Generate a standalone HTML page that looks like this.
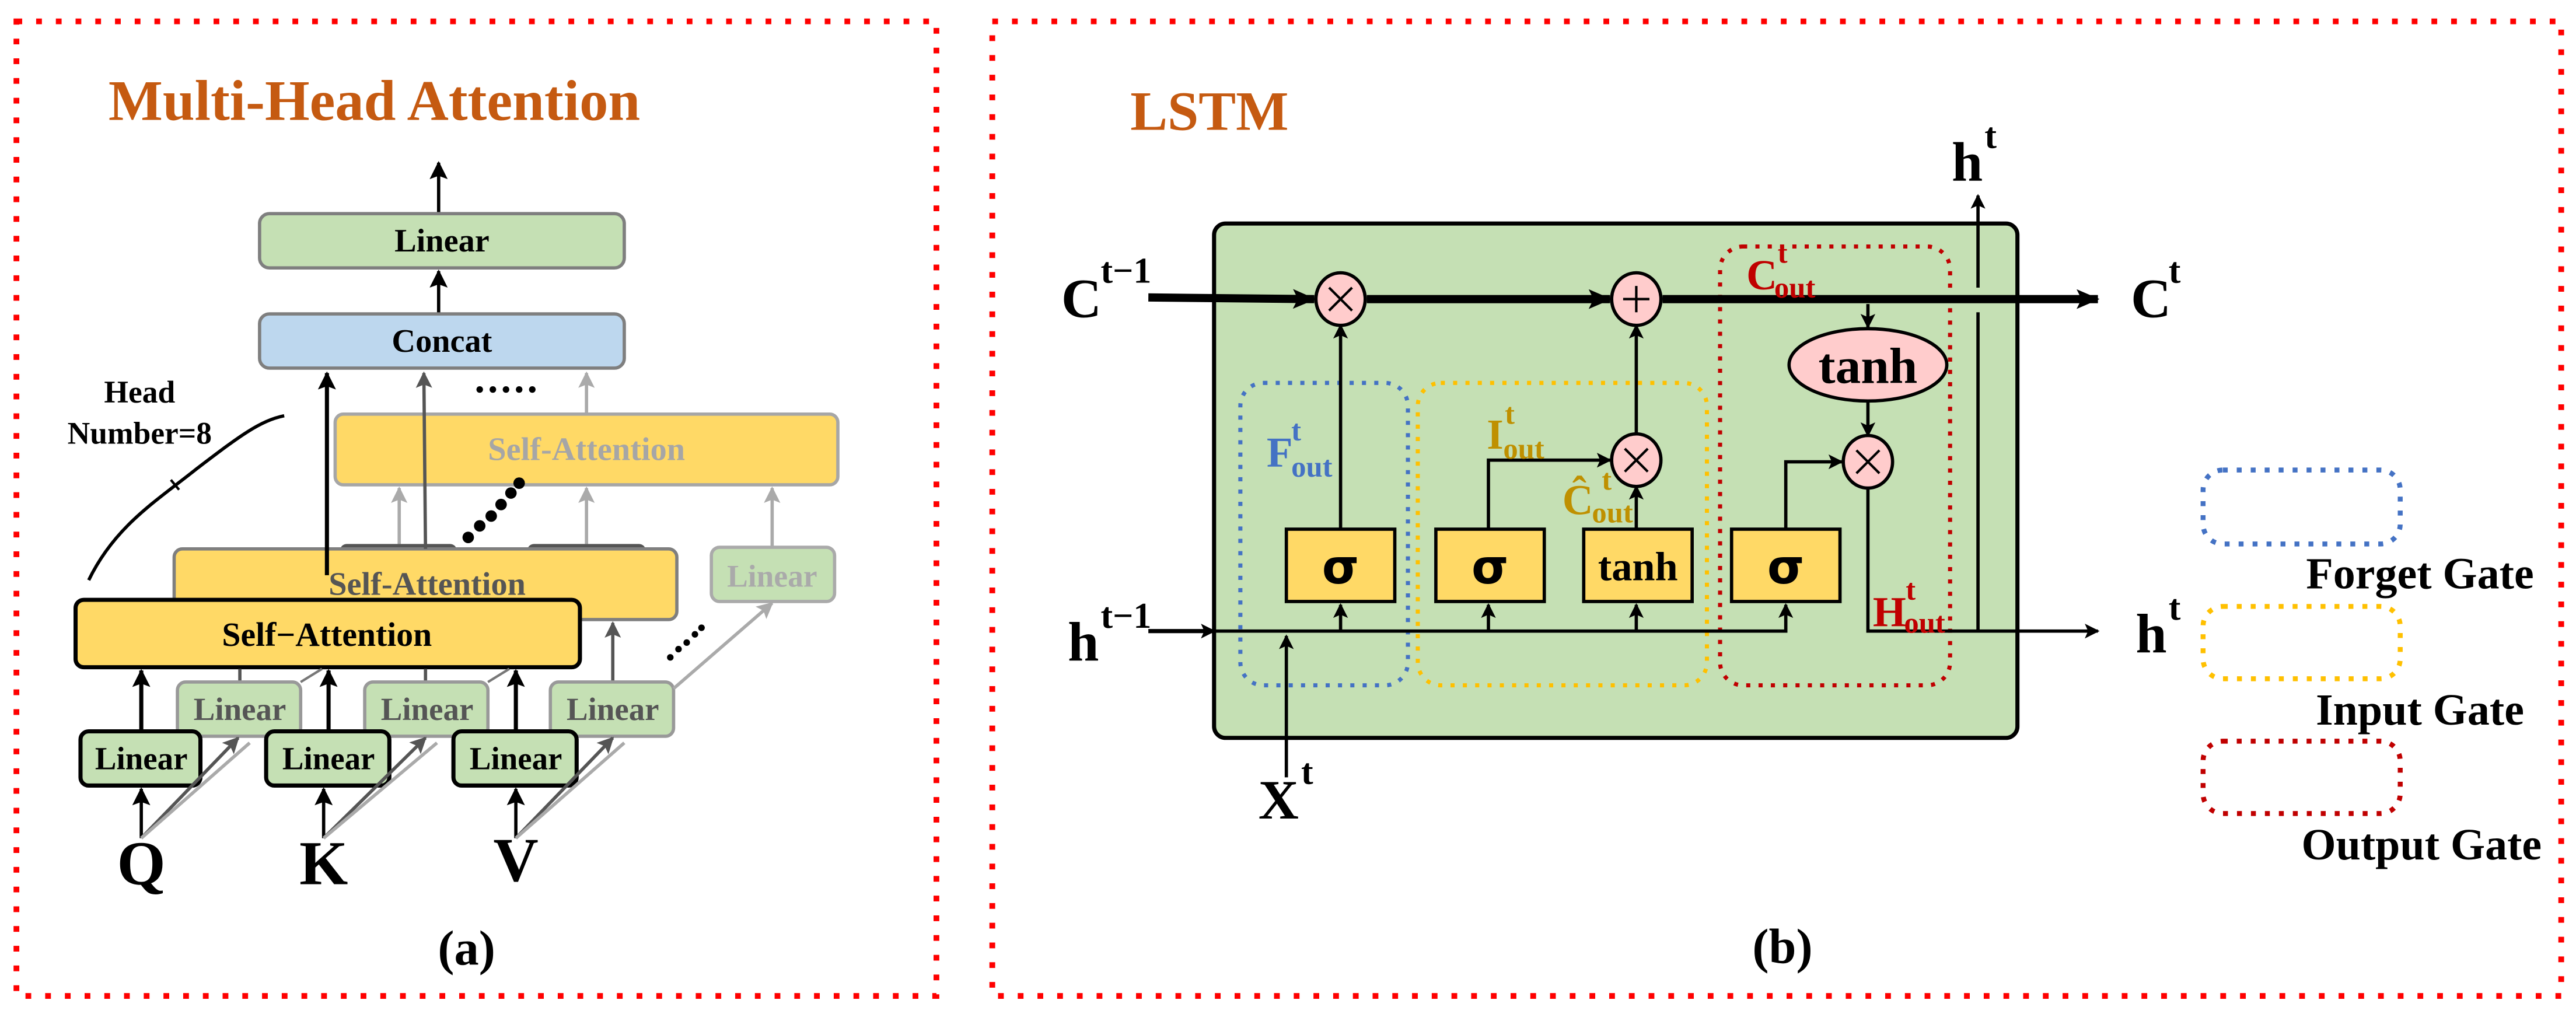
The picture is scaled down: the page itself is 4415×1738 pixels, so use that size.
<!DOCTYPE html>
<html><head><meta charset="utf-8"><style>
html,body{margin:0;padding:0;background:#fff;}
svg{display:block;}
text{font-family:"Liberation Serif",serif;font-weight:bold;}
</style></head><body>
<svg width="4415" height="1738" viewBox="0 0 1568 617" preserveAspectRatio="none" xmlns="http://www.w3.org/2000/svg">
<defs>
<marker id="ab" markerWidth="9" markerHeight="9" refX="8" refY="4.5" orient="auto" markerUnits="userSpaceOnUse"><path d="M0,0 L9,4.5 L0,9 L2,4.5 Z" fill="#000"/></marker>
<marker id="abig" markerWidth="14" markerHeight="12" refX="13" refY="6" orient="auto" markerUnits="userSpaceOnUse"><path d="M0,0 L14,6 L0,12 L3,6 Z" fill="#000"/></marker>
<marker id="ag" markerWidth="10" markerHeight="10" refX="9" refY="5" orient="auto" markerUnits="userSpaceOnUse"><path d="M0,0 L10,5 L0,10 L2,5 Z" fill="#555"/></marker>
<marker id="al" markerWidth="10" markerHeight="10" refX="9" refY="5" orient="auto" markerUnits="userSpaceOnUse"><path d="M0,0 L10,5 L0,10 L2,5 Z" fill="#aaa"/></marker>
<marker id="ak" markerWidth="11" markerHeight="11" refX="10" refY="5.5" orient="auto" markerUnits="userSpaceOnUse"><path d="M0,0 L11,5.5 L0,11 L2,5.5 Z" fill="#000"/></marker>
</defs>
<rect x="10" y="13" width="560" height="593" fill="none" stroke="#f00" stroke-width="3.5" stroke-dasharray="3.5,8.5"/>
<rect x="604" y="13" width="955" height="593" fill="none" stroke="#f00" stroke-width="3.5" stroke-dasharray="3.5,8.5"/>

<!-- ===== LEFT ===== -->
<text x="66" y="73" font-size="35" fill="#c55a11">Multi-Head Attention</text>
<line x1="267" y1="130" x2="267" y2="99" stroke="#000" stroke-width="2" marker-end="url(#ak)"/>
<rect x="158" y="130" width="222" height="33" rx="6" fill="#c5e0b4" stroke="#7f7f7f" stroke-width="2"/>
<text x="269" y="153" font-size="20" text-anchor="middle">Linear</text>
<line x1="267" y1="191" x2="267" y2="165" stroke="#000" stroke-width="2" marker-end="url(#ak)"/>
<rect x="158" y="191" width="222" height="33" rx="6" fill="#bdd7ee" stroke="#7f7f7f" stroke-width="2"/>
<text x="269" y="214" font-size="20" text-anchor="middle">Concat</text>
<text x="85" y="245" font-size="19" text-anchor="middle">Head</text>
<text x="85" y="270" font-size="19" text-anchor="middle">Number=8</text>
<path d="M54,353 C70,320 95,305 120,285 C145,266 158,256 173,253" fill="none" stroke="#000" stroke-width="2"/>
<line x1="104" y1="292" x2="109" y2="298" stroke="#000" stroke-width="1.5"/>
<!-- back self attention -->
<line x1="357" y1="251" x2="357" y2="227" stroke="#aaa" stroke-width="2" marker-end="url(#al)"/>
<g fill="#000"><circle cx="292" cy="237" r="2"/><circle cx="300" cy="237" r="2"/><circle cx="308" cy="237" r="2"/><circle cx="316" cy="237" r="2"/><circle cx="324" cy="237" r="2"/></g>
<rect x="204" y="252" width="306" height="43" rx="5" fill="#ffd966" stroke="#a6a6a6" stroke-width="2"/>
<text x="357" y="280" font-size="20" text-anchor="middle" fill="#a6a6a6">Self-Attention</text>
<line x1="243" y1="331" x2="243" y2="297" stroke="#aaa" stroke-width="2" marker-end="url(#al)"/>
<line x1="357" y1="331" x2="357" y2="297" stroke="#aaa" stroke-width="2" marker-end="url(#al)"/>
<line x1="470" y1="333" x2="470" y2="297" stroke="#aaa" stroke-width="2" marker-end="url(#al)"/>
<rect x="433" y="333" width="75" height="33" rx="5" fill="#c5e0b4" stroke="#aaa" stroke-width="2"/>
<text x="470" y="357" font-size="19" text-anchor="middle" fill="#aaa">Linear</text>
<!-- mid self-attention -->
<rect x="207" y="331" width="71" height="8" rx="4" fill="#555"/>
<rect x="321" y="331" width="72" height="8" rx="4" fill="#555"/>
<g fill="#000"><circle cx="285" cy="327" r="3.5"/><circle cx="292" cy="320" r="3.5"/><circle cx="299" cy="314" r="3.5"/><circle cx="305" cy="307" r="3.5"/><circle cx="311" cy="300" r="3.5"/><circle cx="316" cy="294" r="3.5"/></g>
<rect x="106" y="334" width="306" height="43" rx="5" fill="#ffd966" stroke="#7f7f7f" stroke-width="2"/>
<text x="260" y="362" font-size="20" text-anchor="middle" fill="#555">Self-Attention</text>
<line x1="259" y1="334" x2="258" y2="227" stroke="#555" stroke-width="2" marker-end="url(#ag)"/>
<line x1="199" y1="350" x2="199" y2="227" stroke="#000" stroke-width="2.5" marker-end="url(#ak)"/>
<!-- front -->
<rect x="46" y="365" width="307" height="41" rx="5" fill="#ffd966" stroke="#000" stroke-width="2.5"/>
<text x="199" y="393" font-size="20.5" text-anchor="middle">Self−Attention</text>
<!-- mid linears -->
<g stroke="#555" stroke-width="2">
<line x1="146" y1="415" x2="146" y2="407"/><line x1="259" y1="415" x2="259" y2="407"/>
<line x1="373" y1="415" x2="373" y2="379" marker-end="url(#ag)"/>
</g>
<g fill="#c5e0b4" stroke="#999" stroke-width="2">
<rect x="108" y="415" width="75" height="33" rx="5"/><rect x="222" y="415" width="75" height="33" rx="5"/><rect x="335" y="415" width="75" height="33" rx="5"/>
</g>
<g font-size="19.5" text-anchor="middle" fill="#555">
<text x="146" y="438">Linear</text><text x="260" y="438">Linear</text><text x="373" y="438">Linear</text>
</g>
<line x1="410" y1="419" x2="470" y2="367" stroke="#aaa" stroke-width="2" marker-end="url(#al)"/>
<g fill="#000"><circle cx="408" cy="400" r="2"/><circle cx="413" cy="395" r="2"/><circle cx="418" cy="391" r="2"/><circle cx="423" cy="386" r="2"/><circle cx="427" cy="382" r="2"/></g>
<g stroke="#777" stroke-width="1.5"><line x1="183" y1="415" x2="196" y2="407"/><line x1="297" y1="415" x2="310" y2="407"/></g>
<!-- front linears -->
<g stroke="#000" stroke-width="2.5">
<line x1="86" y1="445" x2="86" y2="408" marker-end="url(#ak)"/>
<line x1="200" y1="445" x2="200" y2="408" marker-end="url(#ak)"/>
<line x1="314" y1="445" x2="314" y2="408" marker-end="url(#ak)"/>
</g>
<g fill="#c5e0b4" stroke="#000" stroke-width="2.5">
<rect x="49" y="445" width="73" height="33" rx="5"/><rect x="162" y="445" width="75" height="33" rx="5"/><rect x="276" y="445" width="75" height="33" rx="5"/>
</g>
<g font-size="19.5" text-anchor="middle">
<text x="86" y="468">Linear</text><text x="200" y="468">Linear</text><text x="314" y="468">Linear</text>
</g>
<g stroke-width="2">
<line x1="86" y1="510" x2="86" y2="480" stroke="#000" marker-end="url(#ak)"/>
<line x1="86" y1="510" x2="145" y2="449" stroke="#555" marker-end="url(#ag)"/>
<line x1="86" y1="510" x2="152" y2="452" stroke="#aaa"/>
<line x1="197" y1="510" x2="197" y2="480" stroke="#000" marker-end="url(#ak)"/>
<line x1="197" y1="510" x2="259" y2="449" stroke="#555" marker-end="url(#ag)"/>
<line x1="197" y1="510" x2="266" y2="452" stroke="#aaa"/>
<line x1="314" y1="510" x2="314" y2="480" stroke="#000" marker-end="url(#ak)"/>
<line x1="314" y1="510" x2="373" y2="449" stroke="#555" marker-end="url(#ag)"/>
<line x1="314" y1="510" x2="380" y2="452" stroke="#aaa"/>
</g>
<g font-size="38" text-anchor="middle">
<text x="86" y="538">Q</text><text x="197" y="538">K</text><text x="314" y="536">V</text>
</g>
<text x="284" y="587" font-size="30" text-anchor="middle">(a)</text>

<!-- ===== RIGHT ===== -->
<text x="688" y="79" font-size="34" fill="#c55a11">LSTM</text>
<rect x="739" y="136" width="489" height="313" rx="7" fill="#c5e0b4" stroke="#000" stroke-width="2.5"/>
<rect x="755" y="233" width="102" height="184" rx="14" fill="none" stroke="#4472c4" stroke-width="2.5" stroke-dasharray="2.5,5"/>
<rect x="863" y="233" width="176" height="184" rx="14" fill="none" stroke="#ffc000" stroke-width="2.5" stroke-dasharray="2.5,5"/>
<rect x="1047" y="150" width="140" height="267" rx="14" fill="none" stroke="#c00000" stroke-width="2.5" stroke-dasharray="2.5,5"/>
<!-- cell line -->
<line x1="699" y1="181" x2="800" y2="182" stroke="#000" stroke-width="5" marker-end="url(#abig)"/>
<line x1="832" y1="182" x2="980" y2="182" stroke="#000" stroke-width="5" marker-end="url(#abig)"/>
<line x1="1012" y1="182" x2="1277" y2="182" stroke="#000" stroke-width="5" marker-end="url(#abig)"/>
<line x1="1204" y1="384" x2="1204" y2="190" stroke="#000" stroke-width="2"/>
<line x1="1204" y1="175" x2="1204" y2="119" stroke="#000" stroke-width="2" marker-end="url(#ab)"/>
<!-- h line -->
<line x1="699" y1="384" x2="739" y2="384" stroke="#000" stroke-width="2.5" marker-end="url(#ab)"/>
<polyline points="739,384 1087,384 1087,368" fill="none" stroke="#000" stroke-width="2" marker-end="url(#ab)"/>
<g stroke="#000" stroke-width="2">
<line x1="816" y1="384" x2="816" y2="368" marker-end="url(#ab)"/>
<line x1="906" y1="384" x2="906" y2="368" marker-end="url(#ab)"/>
<line x1="996" y1="384" x2="996" y2="368" marker-end="url(#ab)"/>
<line x1="783" y1="473" x2="783" y2="387" marker-end="url(#ab)"/>
<line x1="816" y1="322" x2="816" y2="198" marker-end="url(#ab)"/>
<polyline points="906,322 906,280 980,280" fill="none" marker-end="url(#ab)"/>
<line x1="996" y1="322" x2="996" y2="296" marker-end="url(#ab)"/>
<line x1="996" y1="264" x2="996" y2="198" marker-end="url(#ab)"/>
<polyline points="1087,322 1087,281 1121,281" fill="none" marker-end="url(#ab)"/>
<line x1="1137" y1="185" x2="1137" y2="199" marker-end="url(#ab)"/>
<line x1="1137" y1="244" x2="1137" y2="265" marker-end="url(#ab)"/>
<polyline points="1137,297 1137,384 1277,384" fill="none" marker-end="url(#ab)"/>
</g>
<g fill="#ffd966" stroke="#000" stroke-width="2">
<rect x="783" y="322" width="66" height="44"/><rect x="874" y="322" width="66" height="44"/><rect x="964" y="322" width="66" height="44"/><rect x="1054" y="322" width="66" height="44"/>
</g>
<g font-size="29" text-anchor="middle" style="font-family:'DejaVu Sans',sans-serif">
<text x="816" y="355" style="font-family:'DejaVu Sans',sans-serif">σ</text>
<text x="907" y="355" style="font-family:'DejaVu Sans',sans-serif">σ</text>
<text x="1087" y="355" style="font-family:'DejaVu Sans',sans-serif">σ</text>
</g>
<text x="997" y="353" font-size="25" text-anchor="middle">tanh</text>
<g fill="#ffcccc" stroke="#000" stroke-width="2">
<ellipse cx="816" cy="182" rx="15" ry="16"/><ellipse cx="996" cy="182" rx="15" ry="16"/>
<ellipse cx="996" cy="280" rx="15" ry="16"/><ellipse cx="1137" cy="281" rx="15" ry="16"/>
<ellipse cx="1137" cy="222" rx="48" ry="22"/>
</g>
<g stroke="#000" stroke-width="1.5">
<path d="M809,175 L823,189 M823,175 L809,189"/>
<path d="M988,182 L1004,182 M996,174 L996,190"/>
<path d="M989,273 L1003,287 M1003,273 L989,287"/>
<path d="M1130,274 L1144,288 M1144,274 L1130,288"/>
</g>
<text x="1137" y="233" font-size="31" text-anchor="middle">tanh</text>
<g font-size="34">
<text x="646" y="193">C</text><text x="670" y="172" font-size="22">t−1</text>
<text x="650" y="402">h</text><text x="670" y="382" font-size="22">t−1</text>
<text x="1297" y="193">C</text><text x="1320" y="172" font-size="22">t</text>
<text x="1300" y="397">h</text><text x="1320" y="377" font-size="22">t</text>
<text x="1188" y="110">h</text><text x="1208" y="90" font-size="22">t</text>
<text x="766" y="498">X</text><text x="792" y="477" font-size="22">t</text>
</g>
<g font-size="26">
<text x="771" y="284" fill="#4472c4">F</text><text x="786" y="268" font-size="18" fill="#4472c4">t</text><text x="786" y="290" font-size="18" fill="#4472c4">out</text>
<text x="905" y="273" fill="#bf9000">I</text><text x="916" y="258" font-size="18" fill="#bf9000">t</text><text x="915" y="279" font-size="18" fill="#bf9000">out</text>
<text x="951" y="313" fill="#bf9000">Ĉ</text><text x="975" y="298" font-size="18" fill="#bf9000">t</text><text x="969" y="318" font-size="18" fill="#bf9000">out</text>
<text x="1063" y="176" fill="#c00000">C</text><text x="1082" y="160" font-size="18" fill="#c00000">t</text><text x="1080" y="181" font-size="18" fill="#c00000">out</text>
<text x="1140" y="381" fill="#c00000">H</text><text x="1160" y="365" font-size="18" fill="#c00000">t</text><text x="1159" y="385" font-size="18" fill="#c00000">out</text>
</g>
<rect x="1341" y="286" width="120" height="45" rx="12" fill="none" stroke="#4472c4" stroke-width="3" stroke-dasharray="3,5.5"/>
<rect x="1341" y="369" width="120" height="44" rx="12" fill="none" stroke="#ffc000" stroke-width="3" stroke-dasharray="3,5.5"/>
<rect x="1341" y="451" width="120" height="44" rx="12" fill="none" stroke="#c00000" stroke-width="3" stroke-dasharray="3,5.5"/>
<g font-size="27" text-anchor="middle">
<text x="1473" y="358">Forget Gate</text>
<text x="1473" y="441">Input Gate</text>
<text x="1474" y="523">Output Gate</text>
</g>
<text x="1085" y="586" font-size="30" text-anchor="middle">(b)</text>
</svg>
</body></html>
